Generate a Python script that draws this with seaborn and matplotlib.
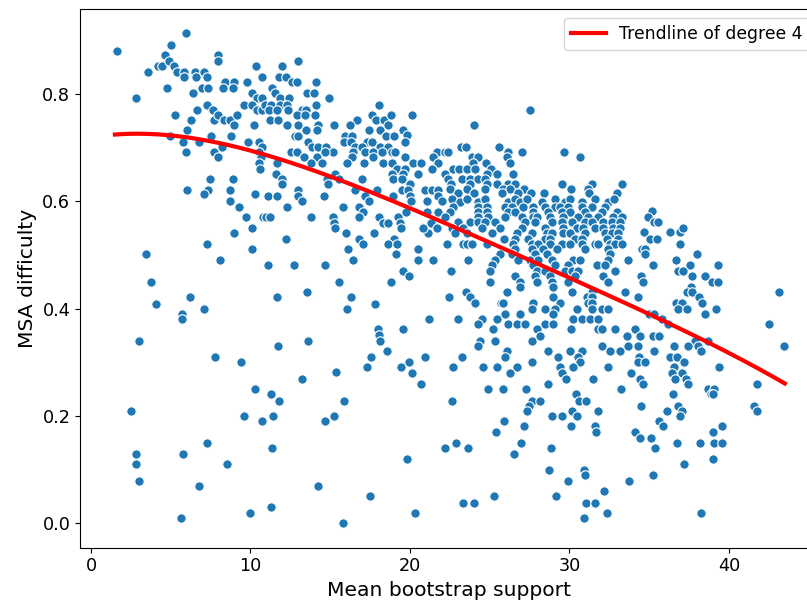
import numpy as np
import pandas as pd
import matplotlib
matplotlib.use("Agg")
import matplotlib.pyplot as plt
import seaborn as sns

# (mean bootstrap support, MSA difficulty) pairs, by region
left_top = [(1.61,0.881),(2.80,0.792),(3.59,0.841),(4.18,0.853),(4.47,0.853),(4.64,0.873),(5.02,0.891),(4.91,0.862),
    (5.22,0.853),(5.94,0.913),(4.74,0.812),(5.39,0.841),(5.85,0.841),(5.85,0.831),(6.52,0.841),(7.10,0.841),(6.58,0.831),
    (7.25,0.831),(6.37,0.802),(6.94,0.812),(7.35,0.812),(7.94,0.873),(7.94,0.862),(8.40,0.822),(8.99,0.822),(8.30,0.812),
    (8.92,0.812),(9.80,0.822),(10.37,0.853),(10.74,0.832),(10.11,0.802),(10.43,0.792),(10.70,0.792),(9.61,0.780),(10.07,0.780),
    (10.39,0.771),(10.74,0.771),(7.25,0.780),(6.65,0.771),(7.63,0.771),(5.27,0.761),(6.27,0.752),(7.73,0.752),(7.94,0.761),
    (8.34,0.752),(8.71,0.752),(9.13,0.761),(8.99,0.742),(10.24,0.742),(6.00,0.733),(4.95,0.721),(7.50,0.721),(8.76,0.721),
    (5.79,0.711),(6.77,0.711),(9.86,0.711),(8.19,0.701),(7.73,0.691),(5.94,0.691),(7.98,0.682),(10.55,0.711),(10.70,0.701),
    (10.55,0.691),(10.65,0.682),(10.55,0.671),(10.60,0.661),(7.46,0.641),(8.88,0.641),(6.00,0.621),(7.31,0.621),(7.10,0.614),
    (8.71,0.621),(10.28,0.614)]
left_mid = [(8.73,0.600),(9.26,0.590),(9.72,0.570),(10.76,0.570),(10.11,0.551),(8.95,0.541),(7.25,0.520),(10.11,0.511),
    (8.09,0.491),(3.45,0.501),(3.78,0.450),(4.09,0.409),(6.19,0.421),(7.10,0.399),(5.72,0.390),(5.72,0.380),(3.01,0.340),
    (7.77,0.310),(9.38,0.300)]
left_low = [(2.49,0.209),(10.30,0.250),(9.59,0.200),(10.72,0.190),(7.25,0.149),(2.80,0.129),(2.80,0.110),(5.79,0.129),
    (8.55,0.110),(2.99,0.079),(6.77,0.069),(5.66,0.009),(9.97,0.019)]
midleft_top = [(12.98,0.862),(11.99,0.853),(11.79,0.831),(12.21,0.831),(12.62,0.822),(12.93,0.822),(14.09,0.822),(11.33,0.812),
    (11.54,0.802),(13.52,0.802),(13.98,0.802),(14.94,0.792),(11.85,0.792),(12.41,0.792),(10.91,0.780),(11.29,0.780),(11.85,0.780),
    (12.27,0.780),(14.09,0.780),(11.16,0.771),(11.64,0.771),(12.33,0.771),(13.21,0.771),(13.48,0.771),(14.04,0.761),(12.90,0.761),
    (13.42,0.761),(11.22,0.752),(11.74,0.752),(12.27,0.742),(13.00,0.742),(14.21,0.742),(15.25,0.742),(18.08,0.780),(20.15,0.761),
    (17.60,0.761),(17.87,0.752),(18.37,0.752),(18.79,0.761),(18.64,0.742),(16.66,0.752),(16.24,0.742),(17.43,0.733),(18.12,0.733),
    (19.58,0.733),(19.79,0.723),(13.46,0.733),(14.15,0.733),(12.79,0.721),(13.00,0.721),(15.92,0.721),(16.38,0.721),(18.48,0.721),
    (19.00,0.721),(15.88,0.711),(16.30,0.711),(17.28,0.711),(17.60,0.711),(19.69,0.711),(13.62,0.711),(13.84,0.701),(14.25,0.701),
    (14.73,0.701),(16.55,0.701),(16.97,0.701),(18.12,0.701),(18.64,0.701),(12.54,0.691),(12.90,0.691),(15.15,0.691),(14.67,0.691),
    (16.45,0.691),(17.18,0.691),(17.66,0.691),(18.22,0.691),(18.85,0.691),(19.06,0.691),(21.72,0.691),(22.19,0.691),(13.37,0.682),
    (14.15,0.682),(16.34,0.682),(17.70,0.682),(19.69,0.682),(21.46,0.682),(11.68,0.671),(13.79,0.671),(14.46,0.671),(16.03,0.671),
    (17.13,0.671),(18.33,0.671),(18.85,0.671),(20.17,0.671),(20.67,0.671),(21.78,0.671),(19.20,0.661),(19.69,0.661),(21.36,0.661),
    (11.60,0.651),(15.30,0.651),(18.85,0.651),(19.54,0.651),(20.48,0.651),(11.96,0.641),(14.77,0.641),(15.55,0.641),(17.01,0.641),
    (18.95,0.641),(19.48,0.641),(20.00,0.632),(11.99,0.632),(14.88,0.632),(13.00,0.621),(16.55,0.621),(17.91,0.621),(19.48,0.621),
    (19.89,0.621),(20.94,0.621),(21.36,0.621),(21.74,0.621)]
midleft_mid = [(11.12,0.610),(11.68,0.610),(13.00,0.610),(14.63,0.610),(17.18,0.610),(13.25,0.600),(17.43,0.600),(18.95,0.610),
    (20.00,0.610),(21.08,0.600),(20.06,0.600),(21.74,0.610),(21.99,0.600),(12.27,0.590),(15.78,0.590),(16.78,0.590),(17.03,0.580),
    (16.82,0.570),(11.00,0.570),(11.22,0.570),(13.77,0.570),(15.15,0.570),(15.24,0.560),(15.28,0.551),(18.08,0.570),(18.33,0.560),
    (18.64,0.560),(19.23,0.570),(19.39,0.560),(19.44,0.551),(19.72,0.580),(21.08,0.580),(21.74,0.580),(21.29,0.560),(21.67,0.551),
    (21.15,0.541),(20.83,0.551),(15.99,0.541),(17.76,0.541),(12.21,0.530),(16.82,0.530),(17.03,0.520),(19.02,0.530),(18.64,0.520),
    (19.17,0.520),(16.13,0.511),(20.48,0.511),(19.15,0.501),(16.45,0.491),(20.52,0.491),(21.46,0.491),(11.12,0.481),(12.73,0.481),
    (14.69,0.481),(19.56,0.470),(19.94,0.460),(15.55,0.450),(18.79,0.450),(13.56,0.430),(11.68,0.421),(16.30,0.421),(16.03,0.399),
    (17.81,0.409),(21.19,0.380),(18.01,0.361),(18.08,0.351),(18.14,0.340),(19.58,0.361),(13.62,0.340),(11.74,0.330),(18.54,0.320),
    (17.55,0.310),(19.92,0.300),(20.94,0.310),(17.28,0.290),(19.44,0.290),(15.34,0.281)]
midleft_low = [(13.25,0.269),(20.10,0.279),(20.67,0.259),(11.29,0.240),(11.81,0.228),(15.86,0.228),(11.43,0.200),(15.22,0.200),
    (14.69,0.190),(11.37,0.139),(19.83,0.120),(22.19,0.139),(14.21,0.069),(17.49,0.050),(11.29,0.029),(20.29,0.019),(15.78,0.000)]
midright_top = [(27.54,0.771),(24.01,0.742),(23.20,0.701),(23.49,0.701),(25.58,0.701),(22.36,0.691),(26.16,0.691),(27.00,0.691),
    (26.08,0.682),(26.25,0.671),(29.67,0.691),(30.66,0.682),(23.91,0.682),(24.28,0.682),(23.97,0.671),(24.78,0.671),(22.72,0.661),
    (23.07,0.661),(23.55,0.661),(24.08,0.661),(25.06,0.661),(22.19,0.651),(24.81,0.651),(25.44,0.651),(26.44,0.651),(22.40,0.641),
    (23.24,0.641),(23.76,0.641),(24.24,0.641),(24.70,0.641),(22.57,0.632),(23.76,0.632),(24.81,0.632),(25.44,0.632),(26.16,0.632),
    (26.58,0.632),(29.51,0.632),(31.39,0.632),(33.31,0.632),(27.17,0.622),(30.09,0.622),(31.18,0.622),(22.51,0.622),(23.55,0.622),
    (24.70,0.622),(25.85,0.622),(26.27,0.622),(23.03,0.615),(24.03,0.615),(25.75,0.615),(26.75,0.615),(27.59,0.615),(28.42,0.615),
    (31.22,0.615),(32.96,0.615)]
midright_mid = [(22.61,0.605),(23.13,0.598),(23.55,0.605),(24.28,0.598),(24.70,0.605),(26.16,0.598),(26.58,0.605),(26.89,0.598),
    (27.31,0.605),(28.26,0.598),(29.09,0.605),(29.72,0.598),(30.03,0.605),(30.76,0.598),(31.60,0.605),(32.43,0.598),(32.82,0.605),
    (22.72,0.590),(24.28,0.590),(24.81,0.590),(25.96,0.590),(26.38,0.590),(27.10,0.590),(27.73,0.590),(28.46,0.590),(29.09,0.590),
    (29.40,0.590),(29.93,0.590),(30.76,0.590),(31.39,0.590),(32.22,0.590),
    (22.51,0.580),(24.28,0.580),(24.81,0.580),(26.16,0.580),(26.58,0.580),(27.73,0.580),(28.67,0.580),(29.51,0.580),(30.03,0.580),
    (30.97,0.580),(32.02,0.580),(32.96,0.580),
    (22.19,0.570),(24.28,0.570),(24.91,0.570),(25.96,0.570),(27.00,0.570),(27.73,0.570),(27.94,0.570),(28.78,0.570),(29.61,0.570),
    (30.55,0.570),(31.18,0.570),(31.80,0.570),(32.75,0.570),(33.27,0.570),
    (23.03,0.561),(23.76,0.561),(24.28,0.561),(24.70,0.561),(25.33,0.561),(27.21,0.561),(27.84,0.561),(28.88,0.561),(29.51,0.561),
    (30.14,0.561),(30.97,0.561),(31.39,0.561),(32.12,0.561),(32.64,0.561),(33.17,0.561),
    (22.61,0.551),(23.34,0.551),(24.49,0.551),(25.64,0.551),(27.00,0.551),(28.46,0.551),(29.61,0.551),(30.45,0.551),(30.86,0.551),
    (31.60,0.551),(32.12,0.551),(32.75,0.551),(33.17,0.551),
    (22.82,0.541),(23.55,0.541),(25.12,0.541),(26.69,0.541),(27.63,0.541),(28.57,0.541),(28.88,0.541),(29.61,0.541),(30.03,0.541),
    (30.97,0.541),(32.22,0.541),(32.64,0.541),(33.06,0.541),
    (25.91,0.530),(26.58,0.530),(27.42,0.530),(28.46,0.530),(28.78,0.530),(30.34,0.530),(30.76,0.530),(32.33,0.530),(33.06,0.530),
    (22.30,0.520),(23.34,0.520),(23.55,0.520),(23.87,0.520),(24.81,0.520),(26.47,0.520),(27.63,0.520),(28.05,0.520),(28.78,0.520),
    (29.51,0.520),(30.03,0.520),(30.76,0.520),(31.60,0.520),(31.80,0.520),(32.54,0.520),(32.85,0.520),(33.27,0.520),
    (26.58,0.511),(27.63,0.511),(28.36,0.511),(29.20,0.511),(30.97,0.511),(32.43,0.511),
    (25.64,0.501),(26.38,0.501),(27.84,0.501),(28.57,0.501),(32.54,0.501),
    (23.62,0.491),(25.33,0.491),(26.79,0.491),(27.52,0.491),(28.05,0.491),(28.88,0.491),(30.24,0.491),(30.66,0.491),(32.43,0.491),
    (25.12,0.481),(27.73,0.481),(29.09,0.481),(29.93,0.481),(31.70,0.481),(32.22,0.481),
    (22.57,0.470),(25.02,0.470),(27.94,0.470),(28.46,0.470),(29.72,0.470),(30.14,0.470),(30.55,0.470),(32.85,0.470),
    (26.58,0.460),(27.84,0.460),(28.78,0.460),(30.34,0.460),(32.12,0.460),
    (25.02,0.450),(26.89,0.450),(27.94,0.450),(28.88,0.450),(29.93,0.450),(32.43,0.450),
    (26.89,0.440),(28.98,0.440),
    (23.49,0.430),(26.10,0.430),(30.14,0.430),(31.39,0.430),
    (22.45,0.421),(23.76,0.421),(28.98,0.421),(31.08,0.421),(31.39,0.421),
    (24.08,0.410),(25.71,0.410),(25.85,0.410),(27.73,0.410),(29.40,0.410),(31.18,0.410),(31.39,0.410),
    (27.67,0.399),(28.46,0.399),(29.09,0.399),(30.45,0.399),(31.39,0.399),(32.02,0.399),(32.43,0.399),
    (25.96,0.390),(26.89,0.390),(28.98,0.390),
    (23.03,0.380),(24.49,0.380),(25.44,0.380),(30.24,0.380),(30.76,0.380),(31.29,0.380),(31.80,0.380),
    (24.28,0.371),(26.16,0.371),(26.69,0.371),(27.21,0.371),(28.46,0.371),(28.98,0.371),
    (25.22,0.361),(27.94,0.361),(30.09,0.361),(31.80,0.361),(32.02,0.361),(32.85,0.361),
    (28.15,0.349),(24.39,0.340),(25.33,0.340),(27.67,0.340),(24.28,0.330),(32.02,0.330),
    (26.06,0.320),(28.67,0.320),(30.03,0.320),(30.76,0.320),(32.54,0.320),(33.17,0.320),
    (23.28,0.310),(25.96,0.310),(29.30,0.310),(30.55,0.310),(27.63,0.300),(30.66,0.300),
    (22.72,0.290),(24.60,0.290),(25.44,0.290),(26.69,0.290),(29.40,0.290),(30.24,0.290),(32.43,0.290)]
midright_low = [(26.25,0.279),(29.55,0.279),(29.76,0.269),(31.45,0.269),(24.87,0.250),(25.84,0.250),(27.27,0.250),(28.65,0.259),
    (33.23,0.250),(22.63,0.228),(27.67,0.228),(28.15,0.228),(27.48,0.219),(27.35,0.209),(30.43,0.240),(30.61,0.228),(31.01,0.228),
    (30.16,0.209),(30.45,0.200),(31.79,0.209),(28.90,0.200),(29.51,0.200),(25.92,0.190),(25.39,0.170),(27.15,0.180),(30.09,0.180),
    (31.60,0.180),(31.66,0.170),(22.90,0.149),(23.62,0.139),(26.96,0.149),(26.50,0.129),(28.84,0.139),(28.71,0.099),(29.89,0.079),
    (30.93,0.099),(30.99,0.089),(32.19,0.060),(25.24,0.050),(29.17,0.050),(23.32,0.038),(24.03,0.038),(31.05,0.038),(31.60,0.038),
    (32.37,0.019),(30.89,0.009)]
right_mid = [(35.19,0.581),(34.92,0.570),(35.32,0.561),(35.53,0.561),(36.30,0.542),(36.93,0.542),(37.13,0.551),(34.67,0.542),
    (35.03,0.530),(35.47,0.530),(36.95,0.520),(34.55,0.511),(34.75,0.511),(34.75,0.501),(33.69,0.491),(37.97,0.501),(36.68,0.491),
    (35.25,0.481),(37.55,0.481),(39.29,0.481),(36.82,0.470),(37.13,0.470),(34.46,0.461),(34.59,0.450),(37.66,0.461),(38.49,0.461),
    (38.91,0.450),(39.33,0.450),(37.60,0.441),(37.35,0.430),(37.66,0.430),(33.48,0.430),(34.31,0.421),(38.12,0.421),(43.15,0.430),
    (36.68,0.410),(37.03,0.410),(36.82,0.399),(37.35,0.399),(38.28,0.410),(39.16,0.399),(38.49,0.390),(34.98,0.390),(35.32,0.390),
    (35.82,0.380),(36.19,0.371),(42.51,0.371),(34.11,0.361),(33.59,0.349),(34.42,0.349),(35.25,0.349),(35.63,0.349),(37.87,0.340),
    (37.45,0.330),(38.04,0.330),(38.24,0.320),(38.66,0.340),(43.47,0.330),(36.55,0.330),(34.31,0.330),(33.65,0.330),(35.32,0.320),
    (34.38,0.310),(36.30,0.310),(36.76,0.310),(34.31,0.300),(34.73,0.300),(37.20,0.300),(36.55,0.290),(39.39,0.290)]
right_low = [(33.87,0.279),(34.40,0.269),(34.61,0.259),(36.40,0.279),(37.07,0.279),(36.61,0.269),(37.28,0.269),(37.41,0.259),
    (36.49,0.240),(38.70,0.250),(39.08,0.250),(38.85,0.240),(39.02,0.240),(41.77,0.259),(41.57,0.219),(41.77,0.209),(34.46,0.219),
    (36.09,0.209),(36.82,0.219),(37.03,0.209),(36.95,0.200),(35.63,0.190),(35.84,0.180),(34.09,0.170),(34.40,0.159),(35.13,0.159),
    (35.38,0.139),(36.74,0.149),(38.20,0.149),(39.04,0.149),(39.56,0.149),(38.97,0.170),(39.56,0.180),(37.20,0.110),(38.97,0.120),
    (33.75,0.079),(35.25,0.089),(38.24,0.019)]

# Trendline (degree-4 polynomial in the reference) read at a few x positions from the picture
trend_support = [1.5, 5.9, 8.0, 10.7, 14.5, 18.0, 22.2, 27.8, 33.5, 38.0, 41.8, 43.5]
trend_difficulty = [0.725, 0.719, 0.707, 0.690, 0.652, 0.614, 0.557, 0.485, 0.411, 0.349, 0.285, 0.262]

regions = [left_top, left_mid, left_low, midleft_top, midleft_mid, midleft_low,
           midright_top, midright_mid, midright_low, right_mid, right_low]
pairs = [p for r in regions for p in r]
df = pd.DataFrame(pairs, columns=["Mean bootstrap support", "MSA difficulty"])

x_label = "Mean bootstrap support"
y_label = "MSA difficulty"
trend_label = "Trendline of degree 4"
trend_degree = 4

W, H, DPI = 807, 608, 100
fig = plt.figure(figsize=(W / DPI, H / DPI), dpi=DPI)
# axes placed in pixels: x=0 -> 91px, x=40 -> 729px ; y=0 -> 523px, y=0.8 -> 94px
xlim = (-0.69, 45.6)
ylim = (-0.046, 0.958)
px_per_x = (729 - 91) / 40
px_per_y = (523 - 94) / 0.8
left_px = 91 + xlim[0] * px_per_x
right_px = 91 + xlim[1] * px_per_x
bottom_px = 523 - ylim[0] * px_per_y
top_px = 523 - ylim[1] * px_per_y
ax = fig.add_axes([left_px / W, (H - bottom_px) / H, (right_px - left_px) / W, (bottom_px - top_px) / H])

sns.scatterplot(data=df, x=x_label, y=y_label, ax=ax, s=46, color="#1f77b4",
                edgecolor="white", linewidth=0.8, zorder=2)

# smooth degree-4 curve through the trendline readings
coef = np.polyfit(trend_support, trend_difficulty, trend_degree)
xs = np.linspace(min(trend_support), max(trend_support), 200)
trend = pd.DataFrame({"x": xs, "y": np.polyval(coef, xs)})
sns.lineplot(data=trend, x="x", y="y", ax=ax, color="red", linewidth=3, label=trend_label, zorder=3)

ax.set_xlim(*xlim)
ax.set_ylim(*ylim)
ax.set_xticks([0, 10, 20, 30, 40])
ax.set_yticks([0.0, 0.2, 0.4, 0.6, 0.8])
ax.set_xlabel(x_label, fontsize=14.6)
ax.set_ylabel(y_label, fontsize=14.6)
ax.tick_params(labelsize=12.7)
ax.legend(loc="upper right", fontsize=12.4)

fig.savefig("out.png", dpi=DPI)
